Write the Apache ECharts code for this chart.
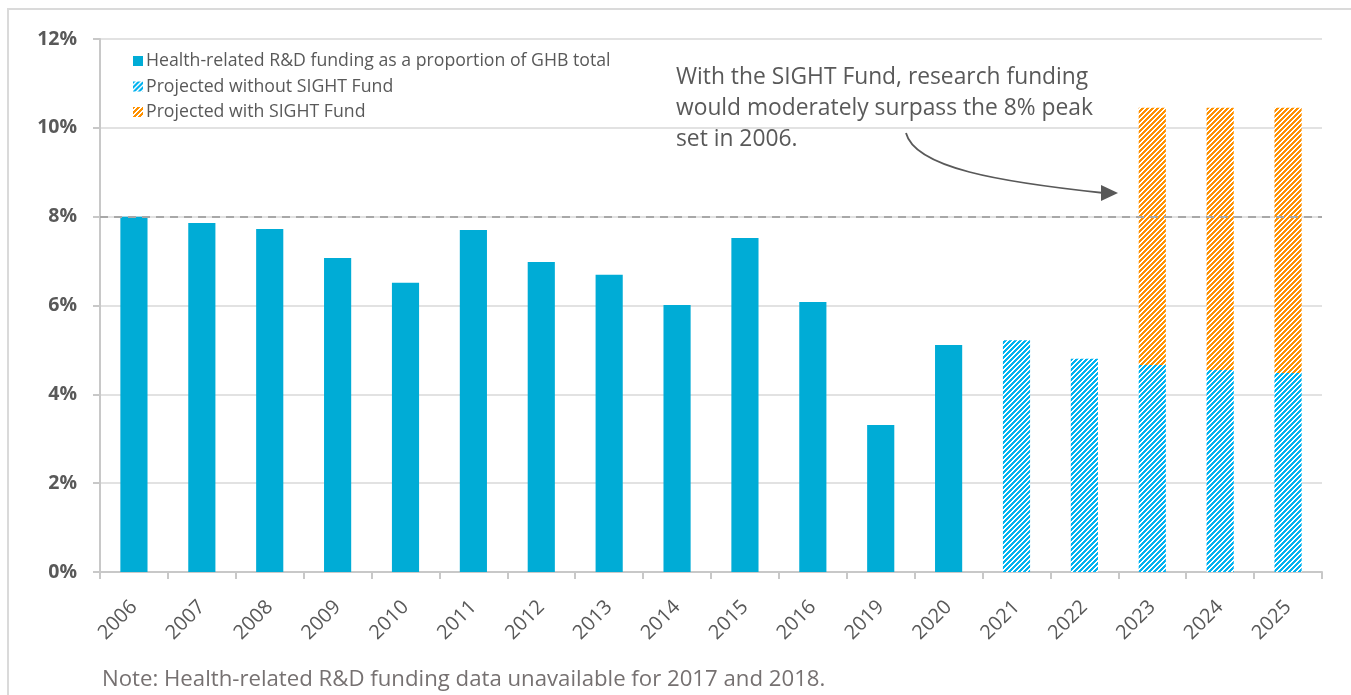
<!DOCTYPE html>
<html>
<head>
<meta charset="utf-8">
<script src="https://cdn.jsdelivr.net/npm/echarts@6/dist/echarts.min.js"></script>
<style>
html,body{margin:0;padding:0;background:#fff;}
#chart{width:1351px;height:695px;}
</style>
</head>
<body>
<div id="chart"></div>
<script>
const years = ['2006','2007','2008','2009','2010','2011','2012','2013','2014','2015','2016','2019','2020','2021','2022','2023','2024','2025'];
const actualShare = [8.0,7.86,7.72,7.07,6.51,7.70,6.98,6.69,6.01,7.52,6.08,3.31,5.11,null,null,null,null,null];
const projectedWithout = [null,null,null,null,null,null,null,null,null,null,null,null,null,5.22,4.80,4.66,4.55,4.48];
const projectedWithTotal = [null,null,null,null,null,null,null,null,null,null,null,null,null,null,null,10.45,10.45,10.45];
const yTicks = [0,2,4,6,8,10,12];
const peakValue = 8;

const seriesNames = ['Health-related R&D funding as a proportion of GHB total','Projected without SIGHT Fund','Projected with SIGHT Fund'];

const withIncrement = projectedWithTotal.map((v,i)=> v==null ? null : +(v - projectedWithout[i]).toFixed(2));

function stripePattern(color){
  const c = document.createElement('canvas');
  const n = 5;
  c.width = n; c.height = n;
  const ctx = c.getContext('2d');
  ctx.fillStyle = '#ffffff';
  ctx.fillRect(0,0,n,n);
  ctx.fillStyle = color;
  for(let x=0;x<n;x++){
    for(let k=0;k<3;k++){
      const y = ((n-1-x)+k) % n;
      ctx.fillRect(x,y,1,1);
    }
  }
  return {image:c, repeat:'repeat'};
}

const chart = echarts.init(document.getElementById('chart'), null, {renderer:'canvas'});
const txt = '#595959';
const ff = '"Open Sans", Lato, sans-serif';
chart.setOption({
  animation:false,
  backgroundColor:'#ffffff',
  grid:{left:100,right:29,top:39,bottom:123,containLabel:false},
  legend:{
    orient:'vertical', left:128, top:47,
    itemWidth:10, itemHeight:10, itemGap:7.5,
    icon:'rect',
    textStyle:{color:txt,fontSize:17.7,fontFamily:ff,padding:[0,0,0,-2]},
    data:seriesNames
  },
  xAxis:{
    type:'category', data:years,
    axisLine:{lineStyle:{color:'#C8C8C8',width:2}},
    axisTick:{show:true,length:7,lineStyle:{color:'#C8C8C8',width:2}},
    axisLabel:{rotate:45,color:txt,fontSize:20,margin:32,fontFamily:ff}
  },
  yAxis:{
    type:'value', min:0, max:12, interval:2,
    axisLine:{show:true,lineStyle:{color:'#C8C8C8',width:2}},
    axisTick:{show:true,length:7,lineStyle:{color:'#C8C8C8',width:2}},
    splitLine:{lineStyle:{color:'#E2E2E2',width:2}},
    axisLabel:{color:txt,fontSize:19.5,fontWeight:'bold',margin:23,formatter:'{value}%',fontFamily:ff}
  },
  series:[
    {
      name:seriesNames[0], type:'bar', stack:'s', barWidth:'40%',
      data:actualShare,
      itemStyle:{color:'#00ACD6'},
      markLine:{
        silent:true, symbol:['none','none'],
        label:{show:false},
        lineStyle:{color:'#A8A8A8',type:[8,6],width:2},
        data:[{yAxis:peakValue}]
      }
    },
    {
      name:seriesNames[1], type:'bar', stack:'s', barWidth:'40%',
      data:projectedWithout,
      itemStyle:{color:stripePattern('#00B2F0')}
    },
    {
      name:seriesNames[2], type:'bar', stack:'s', barWidth:'40%',
      data:withIncrement,
      itemStyle:{color:stripePattern('#FF9100')}
    }
  ],
  graphic:[
    {type:'rect', shape:{x:8,y:9,width:1400,height:800}, style:{fill:'none',stroke:'#DADADA',lineWidth:2}, silent:true, z:-10},
    {type:'text', left:676, top:62, style:{
      text:'With the SIGHT Fund, research funding\nwould moderately surpass the 8% peak\nset in 2006.',
      fill:txt, font:'22.8px "Open Sans", Lato, sans-serif', lineHeight:31
    }},
    {type:'bezierCurve', shape:{x1:906,y1:133,cpx1:915,cpy1:168,cpx2:1000,cpy2:182,x2:1104,y2:193},
      style:{stroke:'#595959',lineWidth:1.8,fill:'none'}},
    {type:'polygon', shape:{points:[[1118,193],[1101,185],[1101,201]]}, style:{fill:'#595959'}},
    {type:'text', left:102, top:669, style:{
      text:'Note: Health-related R&D funding data unavailable for 2017 and 2018.',
      fill:'#767171', font:'22.2px "Open Sans", Lato, sans-serif'
    }}
  ]
});
</script>
</body>
</html>
